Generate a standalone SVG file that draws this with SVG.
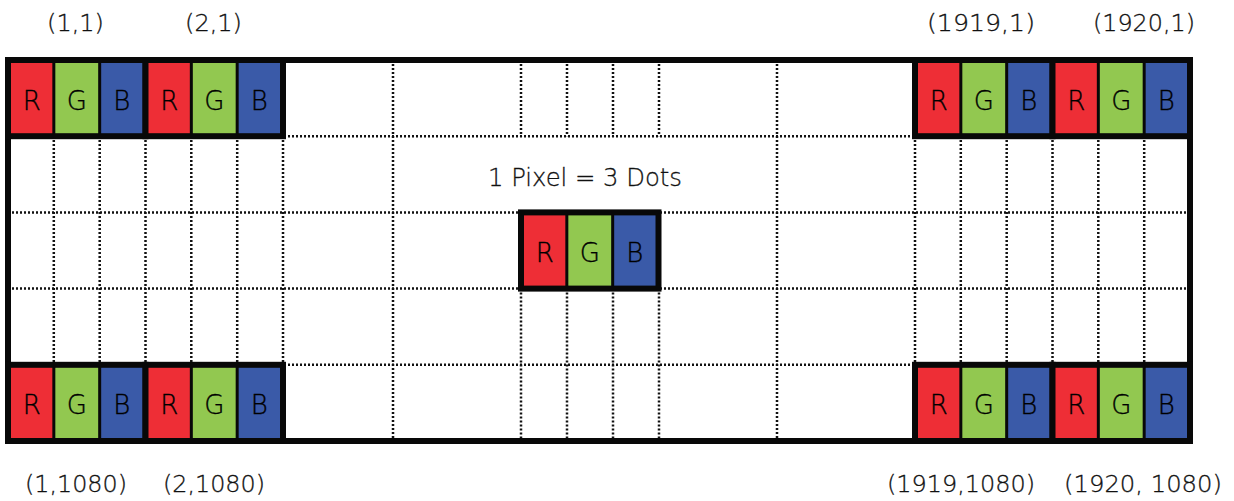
<svg xmlns="http://www.w3.org/2000/svg" xmlns:xlink="http://www.w3.org/1999/xlink" width="1234" height="501" viewBox="0 0 1234 501">
  <style>
    .dot { stroke: #111; stroke-width: 2.5; stroke-dasharray: 2 2; fill: none; }
    .frame { stroke: #080808; stroke-width: 6; fill: none; }
    .ch { font-family: "DejaVu Sans", "Liberation Sans", sans-serif; font-weight: 300; font-size: 26px; fill: #000; stroke: #000; stroke-width: 0.35; text-anchor: middle; }
    .lbl { font-family: "DejaVu Sans", "Liberation Sans", sans-serif; font-weight: 300; font-size: 23px; fill: #111; stroke: #111; stroke-width: 0.3; }
    .cap { font-family: "DejaVu Sans", "Liberation Sans", sans-serif; font-weight: 300; font-size: 25px; fill: #111; stroke: #111; stroke-width: 0.3; }
  </style>
  <defs>
    <g id="px">
      <rect x="-3" y="-3" width="143.5" height="82.2" fill="#080808"/>
      <rect x="3" y="3" width="41.33" height="70.2" fill="#EE2E36"/>
      <rect x="47.33" y="3" width="42.84" height="70.2" fill="#92C850"/>
      <rect x="93.17" y="3" width="41.33" height="70.2" fill="#3A5AA8"/>
    </g>
  </defs>
  <rect width="1234" height="501" fill="#fff"/>

  <g id="connectors">
    <g id="grid-h">
      <line class="dot" x1="8" y1="136.2" x2="1190" y2="136.2"/>
      <line class="dot" x1="8" y1="212.4" x2="1190" y2="212.4"/>
      <line class="dot" x1="8" y1="288.6" x2="1190" y2="288.6"/>
      <line class="dot" x1="8" y1="364.8" x2="1190" y2="364.8"/>
    </g>
    <g id="grid-v">
      <line class="dot" x1="53.8" y1="60" x2="53.8" y2="441"/>
      <line class="dot" x1="99.7" y1="60" x2="99.7" y2="441"/>
      <line class="dot" x1="145.5" y1="60" x2="145.5" y2="441"/>
      <line class="dot" x1="191.3" y1="60" x2="191.3" y2="441"/>
      <line class="dot" x1="237.2" y1="60" x2="237.2" y2="441"/>
      <line class="dot" x1="283" y1="60" x2="283" y2="441"/>
      <line class="dot" x1="393" y1="60" x2="393" y2="441"/>
      <line class="dot" x1="521" y1="60" x2="521" y2="136.2"/>
      <line class="dot" x1="567" y1="60" x2="567" y2="136.2"/>
      <line class="dot" x1="613" y1="60" x2="613" y2="136.2"/>
      <line class="dot" x1="659" y1="60" x2="659" y2="136.2"/>
      <line class="dot" x1="521" y1="288.6" x2="521" y2="441"/>
      <line class="dot" x1="567" y1="288.6" x2="567" y2="441"/>
      <line class="dot" x1="613" y1="288.6" x2="613" y2="441"/>
      <line class="dot" x1="659" y1="288.6" x2="659" y2="441"/>
      <line class="dot" x1="777" y1="60" x2="777" y2="441"/>
      <line class="dot" x1="915" y1="60" x2="915" y2="441"/>
      <line class="dot" x1="960.8" y1="60" x2="960.8" y2="441"/>
      <line class="dot" x1="1006.7" y1="60" x2="1006.7" y2="441"/>
      <line class="dot" x1="1052.5" y1="60" x2="1052.5" y2="441"/>
      <line class="dot" x1="1098.3" y1="60" x2="1098.3" y2="441"/>
      <line class="dot" x1="1144.2" y1="60" x2="1144.2" y2="441"/>
    </g>
  </g>

  <g id="frame">
    <rect class="frame" x="8" y="60" width="1182" height="381"/>
  </g>

  <g id="pixel-1-1">
    <use xlink:href="#px" href="#px" transform="translate(8,60)"/>
    <text class="ch" x="31.7" y="109.6">R</text>
    <text class="ch" x="76.75" y="109.6">G</text>
    <text class="ch" x="121.8" y="109.6">B</text>
  </g>
  <g id="pixel-2-1">
    <use xlink:href="#px" href="#px" transform="translate(145.5,60)"/>
    <text class="ch" x="169.2" y="109.6">R</text>
    <text class="ch" x="214.25" y="109.6">G</text>
    <text class="ch" x="259.3" y="109.6">B</text>
  </g>
  <g id="pixel-1919-1">
    <use xlink:href="#px" href="#px" transform="translate(915,60)"/>
    <text class="ch" x="938.7" y="109.6">R</text>
    <text class="ch" x="983.75" y="109.6">G</text>
    <text class="ch" x="1028.8" y="109.6">B</text>
  </g>
  <g id="pixel-1920-1">
    <use xlink:href="#px" href="#px" transform="translate(1052.5,60)"/>
    <text class="ch" x="1076.2" y="109.6">R</text>
    <text class="ch" x="1121.25" y="109.6">G</text>
    <text class="ch" x="1166.3" y="109.6">B</text>
  </g>
  <g id="pixel-1-1080">
    <use xlink:href="#px" href="#px" transform="translate(8,364.8)"/>
    <text class="ch" x="31.7" y="414.4">R</text>
    <text class="ch" x="76.75" y="414.4">G</text>
    <text class="ch" x="121.8" y="414.4">B</text>
  </g>
  <g id="pixel-2-1080">
    <use xlink:href="#px" href="#px" transform="translate(145.5,364.8)"/>
    <text class="ch" x="169.2" y="414.4">R</text>
    <text class="ch" x="214.25" y="414.4">G</text>
    <text class="ch" x="259.3" y="414.4">B</text>
  </g>
  <g id="pixel-1919-1080">
    <use xlink:href="#px" href="#px" transform="translate(915,364.8)"/>
    <text class="ch" x="938.7" y="414.4">R</text>
    <text class="ch" x="983.75" y="414.4">G</text>
    <text class="ch" x="1028.8" y="414.4">B</text>
  </g>
  <g id="pixel-1920-1080">
    <use xlink:href="#px" href="#px" transform="translate(1052.5,364.8)"/>
    <text class="ch" x="1076.2" y="414.4">R</text>
    <text class="ch" x="1121.25" y="414.4">G</text>
    <text class="ch" x="1166.3" y="414.4">B</text>
  </g>
  <g id="pixel-center">
    <use xlink:href="#px" href="#px" transform="translate(521,212.4)"/>
    <text class="ch" x="544.7" y="262">R</text>
    <text class="ch" x="589.75" y="262">G</text>
    <text class="ch" x="634.8" y="262">B</text>
  </g>

  <g id="labels">
    <text class="lbl" x="47" y="31" textLength="57" lengthAdjust="spacingAndGlyphs">(1,1)</text>
    <text class="lbl" x="185" y="31" textLength="57" lengthAdjust="spacingAndGlyphs">(2,1)</text>
    <text class="lbl" x="927" y="31" textLength="108" lengthAdjust="spacingAndGlyphs">(1919,1)</text>
    <text class="lbl" x="1093" y="31" textLength="102" lengthAdjust="spacingAndGlyphs">(1920,1)</text>
    <text class="lbl" x="25" y="492" textLength="102" lengthAdjust="spacingAndGlyphs">(1,1080)</text>
    <text class="lbl" x="163" y="492" textLength="102" lengthAdjust="spacingAndGlyphs">(2,1080)</text>
    <text class="lbl" x="887" y="492" textLength="148" lengthAdjust="spacingAndGlyphs">(1919,1080)</text>
    <text class="lbl" x="1064" y="492" textLength="158" lengthAdjust="spacingAndGlyphs">(1920, 1080)</text>
    <text class="cap" x="488" y="186" textLength="194" lengthAdjust="spacingAndGlyphs">1 Pixel = 3 Dots</text>
  </g>
</svg>
